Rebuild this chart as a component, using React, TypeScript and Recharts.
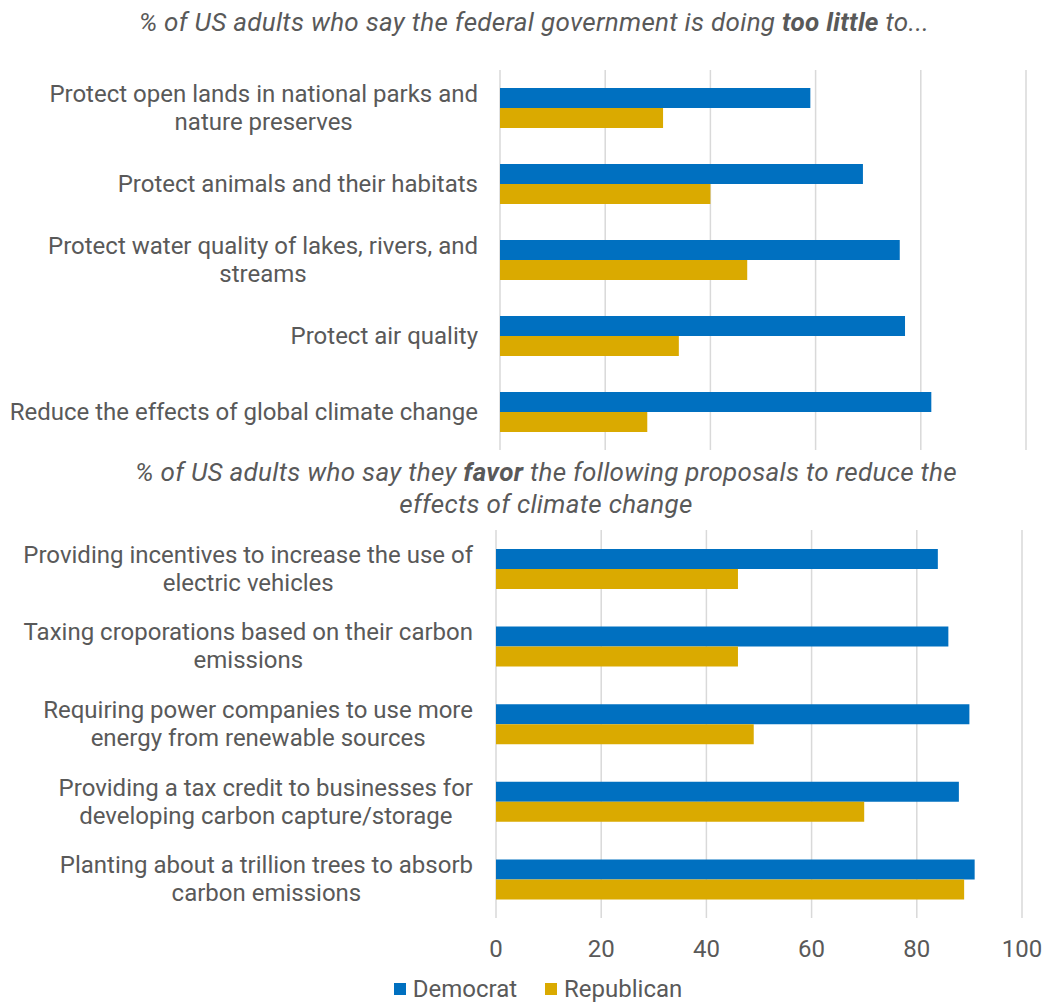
import * as React from 'react';
import { BarChart, Bar, XAxis, YAxis, CartesianGrid, Legend } from 'recharts';

const topCategories = [
  'Protect open lands in national parks and\nnature preserves',
  'Protect animals and their habitats',
  'Protect water quality of lakes, rivers, and\nstreams',
  'Protect air quality',
  'Reduce the effects of global climate change',
];
const topDemocrat = [59, 69, 76, 77, 82];
const topRepublican = [31, 40, 47, 34, 28];

const bottomCategories = [
  'Providing incentives to increase the use of\nelectric vehicles',
  'Taxing croporations based on their carbon\nemissions',
  'Requiring power companies to use more\nenergy from renewable sources',
  'Providing a tax credit to businesses for\ndeveloping carbon capture/storage',
  'Planting about a trillion trees to absorb\ncarbon emissions',
];
const bottomDemocrat = [84, 86, 90, 88, 91];
const bottomRepublican = [46, 46, 49, 70, 89];

const xTicks = [0, 20, 40, 60, 80, 100];

const DEM = '#0070C0';
const REP = '#DAAA00';
const TEXT = '#595959';
const FONT = 'Roboto, "Noto Sans", sans-serif';
const LABEL_SIZE = 24;

const topData = topCategories.map((name, i) => ({
  name,
  Democrat: topDemocrat[i],
  Republican: topRepublican[i],
}));
const bottomData = bottomCategories.map((name, i) => ({
  name,
  Democrat: bottomDemocrat[i],
  Republican: bottomRepublican[i],
}));

let ctx: CanvasRenderingContext2D | null = null;
function textWidth(s: string) {
  if (!ctx) ctx = document.createElement('canvas').getContext('2d');
  if (!ctx) return s.length * LABEL_SIZE * 0.5;
  ctx.font = `${LABEL_SIZE}px Roboto`;
  return ctx.measureText(s).width;
}

// right-aligned block, lines centred inside it (like Excel's wrapped labels)
function CategoryTick(props: any) {
  const { x, y, payload, gap } = props;
  const lines = String(payload.value).split('\n');
  const lh = 28;
  const start = -((lines.length - 1) * lh) / 2;
  const right = x - gap;
  const maxW = Math.max(...lines.map(textWidth));
  const cx = right - maxW / 2;
  return (
    <text
      x={cx}
      y={y}
      textAnchor='middle'
      fill={TEXT}
      fontSize={LABEL_SIZE}
      fontFamily={FONT}
      dominantBaseline='central'
    >
      {lines.map((l, i) => (
        <tspan key={i} x={cx} y={y + start + i * lh}>
          {l}
        </tspan>
      ))}
    </text>
  );
}

function LegendContent() {
  const items = [
    { label: 'Democrat', color: DEM },
    { label: 'Republican', color: REP },
  ];
  return (
    <div style={{ display: 'flex', justifyContent: 'center', paddingLeft: 54, marginTop: 12, fontFamily: FONT }}>
      {items.map((it, i) => (
        <div key={it.label} style={{ display: 'flex', alignItems: 'center', marginRight: i === 0 ? 28 : 0 }}>
          <span style={{ width: 12, height: 12, background: it.color, display: 'inline-block', marginRight: 7 }} />
          <span style={{ color: TEXT, fontSize: 24 }}>{it.label}</span>
        </div>
      ))}
    </div>
  );
}

const titleStyle: React.CSSProperties = {
  position: 'absolute',
  fontFamily: FONT,
  fontStyle: 'italic',
  fontSize: 26,
  letterSpacing: 0.3,
  color: TEXT,
  textAlign: 'center',
  lineHeight: '32px',
  whiteSpace: 'nowrap',
};

export default function App() {
  return (
    <div style={{ position: 'absolute', left: 0, top: 0, width: 1044, height: 1003, background: '#fff' }}>
      <div style={{ ...titleStyle, left: 34, width: 1000, top: 6 }}>
        % of US adults who say the federal government is doing <b>too little</b> to...
      </div>
      <div style={{ position: 'absolute', left: 0, top: 60 }}>
        <BarChart
          width={1044}
          height={400}
          data={topData}
          layout='vertical'
          barSize={20}
          barGap={0}
          margin={{ top: 10, right: 18, bottom: 10, left: 0 }}
        >
          <CartesianGrid horizontal={false} stroke='#D9D9D9' strokeWidth={1.5} />
          <XAxis type='number' domain={[0, 100]} ticks={xTicks} hide />
          <YAxis
            type='category'
            dataKey='name'
            width={500}
            axisLine={false}
            tickLine={false}
            interval={0}
            tick={<CategoryTick gap={14} />}
          />
          <Bar dataKey='Democrat' fill={DEM} isAnimationActive={false} />
          <Bar dataKey='Republican' fill={REP} isAnimationActive={false} />
        </BarChart>
      </div>
      <div style={{ ...titleStyle, left: 46, width: 1000, top: 456 }}>
        % of US adults who say they <b>favor</b> the following proposals to reduce the
        <br />
        effects of climate change
      </div>
      <div style={{ position: 'absolute', left: 0, top: 520 }}>
        <BarChart
          width={1044}
          height={483}
          data={bottomData}
          layout='vertical'
          barSize={20}
          barGap={0}
          margin={{ top: 10, right: 22, bottom: 0, left: 0 }}
        >
          <CartesianGrid horizontal={false} stroke='#D9D9D9' strokeWidth={1.5} />
          <XAxis
            type='number'
            domain={[0, 100]}
            ticks={xTicks}
            axisLine={false}
            tickLine={false}
            height={45}
            tickMargin={16}
            tick={{ fill: TEXT, fontSize: 24, fontFamily: FONT }}
          />
          <YAxis
            type='category'
            dataKey='name'
            width={496}
            axisLine={false}
            tickLine={false}
            interval={0}
            tick={<CategoryTick gap={15} />}
          />
          <Legend verticalAlign='bottom' height={40} content={<LegendContent />} />
          <Bar dataKey='Democrat' fill={DEM} isAnimationActive={false} />
          <Bar dataKey='Republican' fill={REP} isAnimationActive={false} />
        </BarChart>
      </div>
    </div>
  );
}
